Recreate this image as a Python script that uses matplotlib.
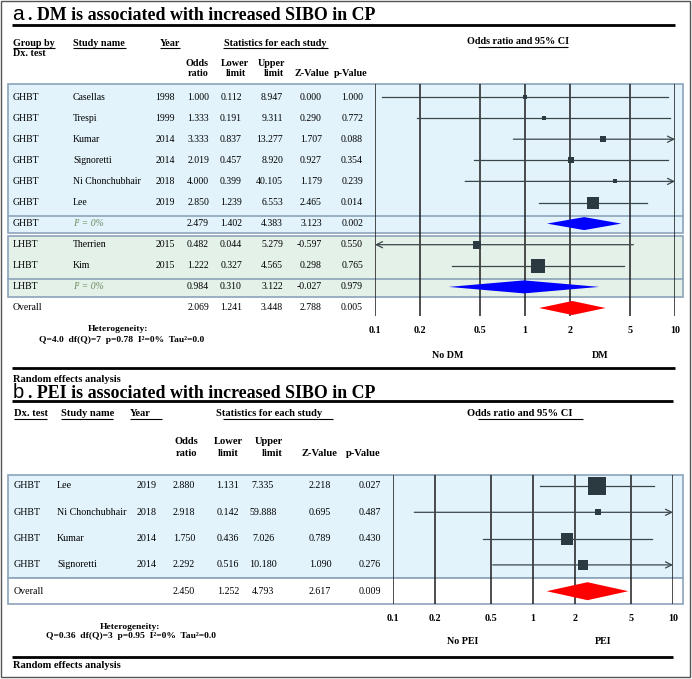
import numpy as np
import matplotlib.pyplot as plt
from matplotlib.patches import Rectangle

plt.rcParams['font.family'] = ['Liberation Serif', 'DejaVu Serif']

# ---- datos panel a (DM) ----
prueba_a = ['GHBT', 'GHBT', 'GHBT', 'GHBT', 'GHBT', 'GHBT', 'LHBT', 'LHBT']
estudio_a = ['Casellas', 'Trespi', 'Kumar', 'Signoretti', 'Ni Chonchubhair', 'Lee', 'Therrien', 'Kim']
anio_a = [1998, 1999, 2014, 2014, 2018, 2019, 2015, 2015]
or_a = [1.000, 1.333, 3.333, 2.019, 4.000, 2.850, 0.482, 1.222]
li_a = [0.112, 0.191, 0.837, 0.457, 0.399, 1.239, 0.044, 0.327]
ls_a = [8.947, 9.311, 13.277, 8.920, 40.105, 6.553, 5.279, 4.565]
z_a = [0.000, 0.290, 1.707, 0.927, 1.179, 2.465, -0.597, 0.298]
p_a = [1.000, 0.772, 0.088, 0.354, 0.239, 0.014, 0.550, 0.765]

subgrupo_a = ['GHBT', 'LHBT']
sub_or_a = [2.479, 0.984]
sub_li_a = [1.402, 0.310]
sub_ls_a = [4.383, 3.122]
sub_z_a = [3.123, -0.027]
sub_p_a = [0.002, 0.979]

global_a = [2.069, 1.241, 3.448, 2.788, 0.005]   # OR, inf, sup, Z, p
het_a = 'Q=4.0  df(Q)=7  p=0.78  I²=0%  Tau²=0.0'

# ---- datos panel b (PEI) ----
prueba_b = ['GHBT', 'GHBT', 'GHBT', 'GHBT']
estudio_b = ['Lee', 'Ni Chonchubhair', 'Kumar', 'Signoretti']
anio_b = [2019, 2018, 2014, 2014]
or_b = [2.880, 2.918, 1.750, 2.292]
li_b = [1.131, 0.142, 0.436, 0.516]
ls_b = [7.335, 59.888, 7.026, 10.180]
z_b = [2.218, 0.695, 0.789, 1.090]
p_b = [0.027, 0.487, 0.430, 0.276]

global_b = [2.450, 1.252, 4.793, 2.617, 0.009]
het_b = 'Q=0.36  df(Q)=3  p=0.95  I²=0%  Tau²=0.0'

ticks = [0.1, 0.2, 0.5, 1, 2, 5, 10]
tick_labels = ['0.1', '0.2', '0.5', '1', '2', '5', '10']

W, H = 692, 679
fig = plt.figure(figsize=(W / 100, H / 100), dpi=100)
bg = fig.add_axes([0, 0, 1, 1])
bg.set_xlim(0, W)
bg.set_ylim(H, 0)
bg.axis('off')

AZUL = '#e2f3fb'
VERDE = '#e3f1e8'
BORDE = '#8ca3ba'
CUADRO = '#2b3940'
LINEA = '#3c464b'
I2_COLOR = '#6f8a5f'


def eje_forest(x0, x1, y0, y1):
    ax = fig.add_axes([x0 / W, 1 - y1 / H, (x1 - x0) / W, (y1 - y0) / H])
    ax.set_xscale('log')
    ax.set_xlim(0.1, 10)
    ax.set_ylim(y1, y0)
    ax.set_xticks(ticks)
    ax.set_xticklabels(tick_labels, fontweight='bold', fontsize=7.2)
    ax.minorticks_off()
    ax.tick_params(axis='x', length=0, pad=7)
    ax.set_yticks([])
    ax.grid(axis='x', color='#1e1e1e', lw=1.1)
    for s in ax.spines.values():
        s.set_visible(False)
    ax.patch.set_visible(False)
    return ax


def pesos(li, ls):
    se = (np.log(ls) - np.log(li)) / 3.92
    w = 1 / se ** 2
    return w / w.sum()


def estudio(ax, y, o, lo, hi, frac, escala):
    flecha = dict(arrowstyle='->', color=LINEA, lw=0.9, shrinkA=0, shrinkB=0, mutation_scale=11)
    if hi > 10:
        ax.annotate('', xy=(10, y), xytext=(lo, y), arrowprops=flecha)
    elif lo < 0.1:
        ax.annotate('', xy=(0.1, y), xytext=(hi, y), arrowprops=flecha)
    else:
        ax.plot([lo, hi], [y, y], color=LINEA, lw=0.9)
    ax.plot(o, y, 's', ms=escala * np.sqrt(frac) * 0.72, color=CUADRO, mew=0, zorder=4)


def rombo(ax, y, o, lo, hi, alto, color):
    ax.fill([lo, o, hi, o], [y, y - alto / 2, y, y + alto / 2], color=color, lw=0, zorder=3)


def fila(y, cols, valores, size):
    for (x, ha), v in zip(cols, valores):
        bg.text(x, y, v, ha=ha, va='center', fontsize=size)


def linea(x0, x1, y, lw=0.8):
    bg.plot([x0, x1], [y, y], color='black', lw=lw, solid_capstyle='butt')


# borde exterior
bg.add_patch(Rectangle((1, 1), W - 3, H - 3, fill=False, edgecolor='#555555', lw=1))

# ================= PANEL A =================
bg.text(12, 20.5, 'a', family='Liberation Sans', fontsize=15, va='baseline')
bg.text(28, 20.5, '. DM is associated with increased SIBO in CP', fontweight='bold',
        fontsize=12.9, va='baseline')
linea(12, 675, 25, lw=2)

hs = 7.3
bg.text(13, 43, 'Group by', fontweight='bold', fontsize=hs, va='center')
bg.text(13, 53, 'Dx. test', fontweight='bold', fontsize=hs, va='center')
bg.text(73, 43, 'Study name', fontweight='bold', fontsize=hs, va='center')
bg.text(160, 43, 'Year', fontweight='bold', fontsize=hs, va='center')
bg.text(275, 43, 'Statistics for each study', fontweight='bold', fontsize=hs, ha='center', va='center')
bg.text(518, 42, 'Odds ratio and 95% CI', fontweight='bold', fontsize=hs, ha='center', va='center')
for x0, x1 in [(13, 55), (73, 126), (160, 180), (223, 328)]:
    linea(x0, x1, 48)
linea(478, 568, 47)
bg.text(209, 63, 'Odds', fontweight='bold', fontsize=hs, ha='right', va='center')
bg.text(209, 74, 'ratio', fontweight='bold', fontsize=hs, ha='right', va='center')
bg.text(235, 63, 'Lower', fontweight='bold', fontsize=hs, ha='center', va='center')
bg.text(236, 74, 'limit', fontweight='bold', fontsize=hs, ha='center', va='center')
bg.text(285, 63, 'Upper', fontweight='bold', fontsize=hs, ha='right', va='center')
bg.text(284, 74, 'limit', fontweight='bold', fontsize=hs, ha='right', va='center')
bg.text(312, 74, 'Z-Value', fontweight='bold', fontsize=hs, ha='center', va='center')
bg.text(351, 74, 'p-Value', fontweight='bold', fontsize=hs, ha='center', va='center')

# cajas de subgrupos
ya = lambda k: 97 + 21.1 * k
bg.add_patch(Rectangle((8, 84), 675, 148.6, facecolor=AZUL, edgecolor=BORDE, lw=1.2))
bg.plot([8, 683], [ya(6) - 8, ya(6) - 8], color=BORDE, lw=1.2)
bg.add_patch(Rectangle((8, ya(7) - 9.2), 675, ya(9) + 10 - (ya(7) - 9.2), facecolor=VERDE,
                       edgecolor=BORDE, lw=1.2))
bg.plot([8, 683], [ya(9) - 8, ya(9) - 8], color=BORDE, lw=1.2)

ax_a = eje_forest(375, 675, 84, 316)
cols_a = [(175, 'right'), (209, 'right'), (242, 'right'), (283, 'right'), (322, 'right'), (363, 'right')]
ds = 7.0

k = 0
for g, (so, sl, su, sz, sp) in zip(subgrupo_a, zip(sub_or_a, sub_li_a, sub_ls_a, sub_z_a, sub_p_a)):
    idx = [i for i, t in enumerate(prueba_a) if t == g]
    fr = pesos(np.array([li_a[i] for i in idx]), np.array([ls_a[i] for i in idx]))
    for i, f in zip(idx, fr):
        y = ya(k)
        bg.text(13, y, prueba_a[i], fontsize=ds, va='center')
        bg.text(73, y, estudio_a[i], fontsize=ds, va='center')
        fila(y, cols_a, [str(anio_a[i]), '%.3f' % or_a[i], '%.3f' % li_a[i], '%.3f' % ls_a[i],
                         '%.3f' % z_a[i], '%.3f' % p_a[i]], ds)
        estudio(ax_a, y, or_a[i], li_a[i], ls_a[i], f, 16.5)
        k += 1
    y = ya(k)
    bg.text(13, y, g, fontsize=ds, va='center')
    bg.text(73, y, 'I² = 0%', fontsize=ds, va='center', style='italic', color=I2_COLOR)
    fila(y, cols_a[1:], ['%.3f' % v for v in (so, sl, su, sz, sp)], ds)
    rombo(ax_a, y, so, sl, su, 13, '#0000ff')
    k += 1

y = ya(k)
bg.text(13, y, 'Overall', fontsize=ds, va='center')
fila(y, cols_a[1:], ['%.3f' % v for v in global_a], ds)
rombo(ax_a, y, global_a[0], global_a[1], global_a[2], 14, '#ff0000')

bg.text(448, 355, 'No DM', fontweight='bold', fontsize=7.2, ha='center', va='center')
bg.text(600, 355, 'DM', fontweight='bold', fontsize=7.2, ha='center', va='center')
bg.text(118, 329, 'Heterogeneity:', fontweight='bold', fontsize=6.8, ha='center', va='center')
bg.text(122, 340, het_a, fontweight='bold', fontsize=6.8, ha='center', va='center')
linea(12, 675, 368, lw=2)
bg.text(13, 379, 'Random effects analysis', fontweight='bold', fontsize=7.6, va='center')

# ================= PANEL B =================
bg.text(13, 397.5, 'b', family='Liberation Sans', fontsize=14.5, va='baseline')
bg.text(28, 397.5, '. PEI is associated with increased SIBO in CP', fontweight='bold',
        fontsize=12.9, va='baseline')
linea(12, 673, 401, lw=2)

hs = 7.6
bg.text(14, 413, 'Dx. test', fontweight='bold', fontsize=hs, va='center')
bg.text(61, 413, 'Study name', fontweight='bold', fontsize=hs, va='center')
bg.text(130, 413, 'Year', fontweight='bold', fontsize=hs, va='center')
bg.text(269, 413, 'Statistics for each study', fontweight='bold', fontsize=hs, ha='center', va='center')
bg.text(520, 413, 'Odds ratio and 95% CI', fontweight='bold', fontsize=hs, ha='center', va='center')
for x0, x1 in [(14, 47), (61, 113), (130, 162), (223, 333), (478, 583)]:
    linea(x0, x1, 418.5)
bg.text(186, 441, 'Odds', fontweight='bold', fontsize=hs, ha='center', va='center')
bg.text(187, 453, 'ratio', fontweight='bold', fontsize=hs, ha='center', va='center')
bg.text(228, 441, 'Lower', fontweight='bold', fontsize=hs, ha='center', va='center')
bg.text(228, 453, 'limit', fontweight='bold', fontsize=hs, ha='center', va='center')
bg.text(269, 441, 'Upper', fontweight='bold', fontsize=hs, ha='center', va='center')
bg.text(272, 453, 'limit', fontweight='bold', fontsize=hs, ha='center', va='center')
bg.text(319, 453, 'Z-Value', fontweight='bold', fontsize=hs, ha='center', va='center')
bg.text(363, 453, 'p-Value', fontweight='bold', fontsize=hs, ha='center', va='center')

yb = lambda k: 486 + 26.3 * k
bg.add_patch(Rectangle((8, 475), 675, 103, facecolor=AZUL, edgecolor=BORDE, lw=1.2))
bg.add_patch(Rectangle((8, 578), 675, 25.5, facecolor='white', edgecolor=BORDE, lw=1.2))

ax_b = eje_forest(393, 673, 475, 604)
cols_b = [(147, 'center'), (184, 'center'), (228, 'center'), (263, 'center'), (320, 'center'), (370, 'center')]
ds = 7.2
fr = pesos(np.array(li_b), np.array(ls_b))
for i in range(len(estudio_b)):
    y = yb(i)
    bg.text(14, y, prueba_b[i], fontsize=ds, va='center')
    bg.text(57, y, estudio_b[i], fontsize=ds, va='center')
    fila(y, cols_b, [str(anio_b[i]), '%.3f' % or_b[i], '%.3f' % li_b[i], '%.3f' % ls_b[i],
                     '%.3f' % z_b[i], '%.3f' % p_b[i]], ds)
    estudio(ax_b, y, or_b[i], li_b[i], ls_b[i], fr[i], 23.8)

y = yb(len(estudio_b))
bg.text(14, y, 'Overall', fontsize=ds, va='center')
fila(y, cols_b[1:], ['%.3f' % v for v in global_b], ds)
rombo(ax_b, y, global_b[0], global_b[1], global_b[2], 18, '#ff0000')

bg.text(463, 642, 'No PEI', fontweight='bold', fontsize=7.2, ha='center', va='center')
bg.text(603, 642, 'PEI', fontweight='bold', fontsize=7.2, ha='center', va='center')
bg.text(130, 627, 'Heterogeneity:', fontweight='bold', fontsize=6.8, ha='center', va='center')
bg.text(131, 636, het_b, fontweight='bold', fontsize=6.8, ha='center', va='center')
linea(12, 673, 657, lw=2)
bg.text(13, 665, 'Random effects analysis', fontweight='bold', fontsize=7.6, va='center')

fig.savefig('out.png', dpi=100)
